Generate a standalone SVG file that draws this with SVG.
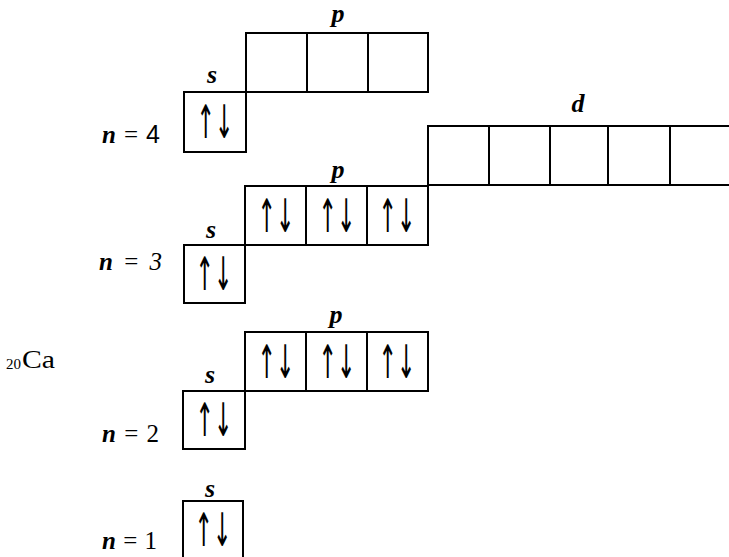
<svg xmlns="http://www.w3.org/2000/svg" width="729" height="557" viewBox="0 0 729 557">
<style>
.b{fill:#fff;stroke:#000;stroke-width:2}
.lab{font-family:"Liberation Serif",serif;font-style:italic;font-weight:bold;font-size:26px;fill:#000;text-anchor:middle}
.n{font-family:"Liberation Serif",serif;font-size:25px;fill:#000}
.nv{font-style:italic;font-weight:bold}
.ar{font-family:"DejaVu Sans",sans-serif;font-size:46px;fill:#000;text-anchor:middle}
.ca{font-family:"Liberation Serif",serif;fill:#000}
</style>
<rect width="729" height="557" fill="#fff"/>
<g id="element">
<text class="ca" x="6" y="369" font-size="15">20</text>
<text class="ca" x="22" y="368" font-size="26" textLength="33" lengthAdjust="spacingAndGlyphs">Ca</text>
</g>
<g id="shell4">
<text class="n" x="102" y="143" textLength="58" lengthAdjust="spacing"><tspan class="nv">n</tspan> = <tspan font-family="Liberation Sans, sans-serif">4</tspan></text>
<g id="s4">
<text class="lab" x="212" y="83">s</text>
<rect class="b" x="184" y="92" width="62" height="60"/>
<text class="ar" transform="translate(215,138) scale(0.48,1)">↑↓</text>
</g>
<g id="p4">
<text class="lab" x="338" y="22">p</text>
<rect class="b" x="246" y="33" width="61" height="59"/>
<rect class="b" x="307" y="33" width="61" height="59"/>
<rect class="b" x="368" y="33" width="60" height="59"/>
</g>
</g>
<g id="d3">
<text class="lab" x="578" y="112">d</text>
<rect class="b" x="428" y="126" width="61" height="59"/>
<rect class="b" x="489" y="126" width="61" height="59"/>
<rect class="b" x="550" y="126" width="58" height="59"/>
<rect class="b" x="608" y="126" width="62" height="59"/>
<rect class="b" x="670" y="126" width="70" height="59"/>
</g>
<g id="shell3">
<text class="n" x="99" y="270" textLength="63" lengthAdjust="spacing"><tspan class="nv">n</tspan> = <tspan font-style="italic">3</tspan></text>
<g id="s3">
<text class="lab" x="211" y="238">s</text>
<rect class="b" x="184" y="245" width="61" height="58"/>
<text class="ar" transform="translate(214,290) scale(0.48,1)">↑↓</text>
</g>
<g id="p3">
<text class="lab" x="338" y="178">p</text>
<rect class="b" x="245" y="186" width="61" height="59"/>
<rect class="b" x="306" y="186" width="61" height="59"/>
<rect class="b" x="367" y="186" width="61" height="59"/>
<text class="ar" transform="translate(276,232) scale(0.48,1)">↑↓</text>
<text class="ar" transform="translate(337,232) scale(0.48,1)">↑↓</text>
<text class="ar" transform="translate(397,232) scale(0.48,1)">↑↓</text>
</g>
</g>
<g id="shell2">
<text class="n" x="102" y="442" textLength="57" lengthAdjust="spacing"><tspan class="nv">n</tspan> = 2</text>
<g id="s2">
<text class="lab" x="210" y="383">s</text>
<rect class="b" x="183" y="391" width="62" height="58"/>
<text class="ar" transform="translate(214,436) scale(0.48,1)">↑↓</text>
</g>
<g id="p2">
<text class="lab" x="336" y="323">p</text>
<rect class="b" x="245" y="332" width="61" height="59"/>
<rect class="b" x="306" y="332" width="61" height="59"/>
<rect class="b" x="367" y="332" width="61" height="59"/>
<text class="ar" transform="translate(276,378) scale(0.48,1)">↑↓</text>
<text class="ar" transform="translate(337,378) scale(0.48,1)">↑↓</text>
<text class="ar" transform="translate(397,378) scale(0.48,1)">↑↓</text>
</g>
</g>
<g id="shell1">
<text class="n" x="102" y="549" textLength="55" lengthAdjust="spacing"><tspan class="nv">n</tspan> = 1</text>
<g id="s1">
<text class="lab" x="210" y="497">s</text>
<rect class="b" x="183" y="501" width="60" height="62"/>
<text class="ar" transform="translate(213,546) scale(0.48,1)">↑↓</text>
</g>
</g>
<g id="connectors"></g>
</svg>
